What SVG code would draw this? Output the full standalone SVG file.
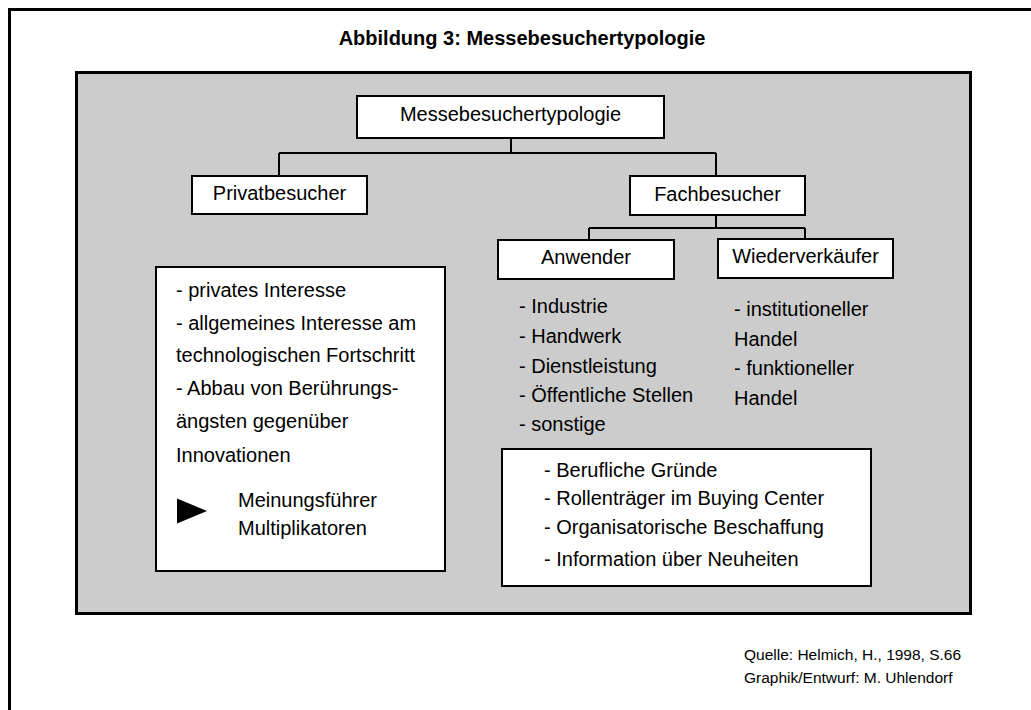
<svg xmlns="http://www.w3.org/2000/svg" width="1031" height="710" viewBox="0 0 1031 710">
<style>
text{font-family:"Liberation Sans",Arial,sans-serif;fill:#000}
.t{font-size:20px}
.c{text-anchor:middle}
.box{fill:#fff;stroke:#000;stroke-width:2}
.ln{fill:none;stroke:#000;stroke-width:2}
.src{font-size:15.5px}
</style>
<rect x="0" y="0" width="1031" height="710" fill="#fff"/>
<rect x="9.5" y="9.5" width="1040" height="720" fill="none" stroke="#000" stroke-width="3"/>
<text x="522" y="45" class="c" font-size="20" font-weight="bold">Abbildung 3: Messebesuchertypologie</text>
<rect x="76.5" y="72.5" width="894" height="541" fill="#cccccc" stroke="#000" stroke-width="3"/>
<g id="connectors">
<path class="ln" d="M511 138V153M279 153H716M279 153V176M716 153V176"/>
<path class="ln" d="M716 215V228M589 228H805M589 228V240M805 228V239"/>
</g>
<g id="root"><rect class="box" x="357" y="96" width="307" height="42"/><text class="t c" x="510.5" y="121">Messebesuchertypologie</text></g>
<g id="privat"><rect class="box" x="192" y="176" width="175" height="38"/><text class="t c" x="279.5" y="199.5">Privatbesucher</text></g>
<g id="fach"><rect class="box" x="630" y="176" width="175" height="39"/><text class="t c" x="717.5" y="200.5">Fachbesucher</text></g>
<g id="anwender"><rect class="box" x="498" y="240" width="176" height="39"/><text class="t c" x="586" y="264">Anwender</text></g>
<g id="wieder"><rect class="box" x="718" y="239" width="175" height="39"/><text class="t c" x="805.5" y="263">Wiederverkäufer</text></g>
<g id="anwender-list">
<text class="t" x="519" y="313">- Industrie</text>
<text class="t" x="519" y="343">- Handwerk</text>
<text class="t" x="519" y="372.5">- Dienstleistung</text>
<text class="t" x="519" y="401.5">- Öffentliche Stellen</text>
<text class="t" x="519" y="431">- sonstige</text>
</g>
<g id="wieder-list">
<text class="t" x="734" y="316">- institutioneller</text>
<text class="t" x="734" y="345.5">Handel</text>
<text class="t" x="734" y="375">- funktioneller</text>
<text class="t" x="734" y="404.5">Handel</text>
</g>
<g id="privat-box">
<rect class="box" x="156" y="267" width="289" height="304"/>
<text class="t" x="176" y="297">- privates Interesse</text>
<text class="t" x="176" y="330">- allgemeines Interesse am</text>
<text class="t" x="176" y="362">technologischen Fortschritt</text>
<text class="t" x="176" y="395">- Abbau von Berührungs-</text>
<text class="t" x="176" y="427.5">ängsten gegenüber</text>
<text class="t" x="176" y="461.5">Innovationen</text>
<polygon points="177,498.5 207,511 177,523.5" fill="#000"/>
<text class="t" x="238" y="506.5">Meinungsführer</text>
<text class="t" x="238" y="535">Multiplikatoren</text>
</g>
<g id="fach-box">
<rect class="box" x="502" y="449" width="369" height="137"/>
<text class="t" x="544" y="477">- Berufliche Gründe</text>
<text class="t" x="544" y="505">- Rollenträger im Buying Center</text>
<text class="t" x="544" y="534">- Organisatorische Beschaffung</text>
<text class="t" x="544" y="566">- Information über Neuheiten</text>
</g>
<text class="src" x="744" y="660">Quelle: Helmich, H., 1998, S.66</text>
<text class="src" x="744" y="683">Graphik/Entwurf: M. Uhlendorf</text>
</svg>
